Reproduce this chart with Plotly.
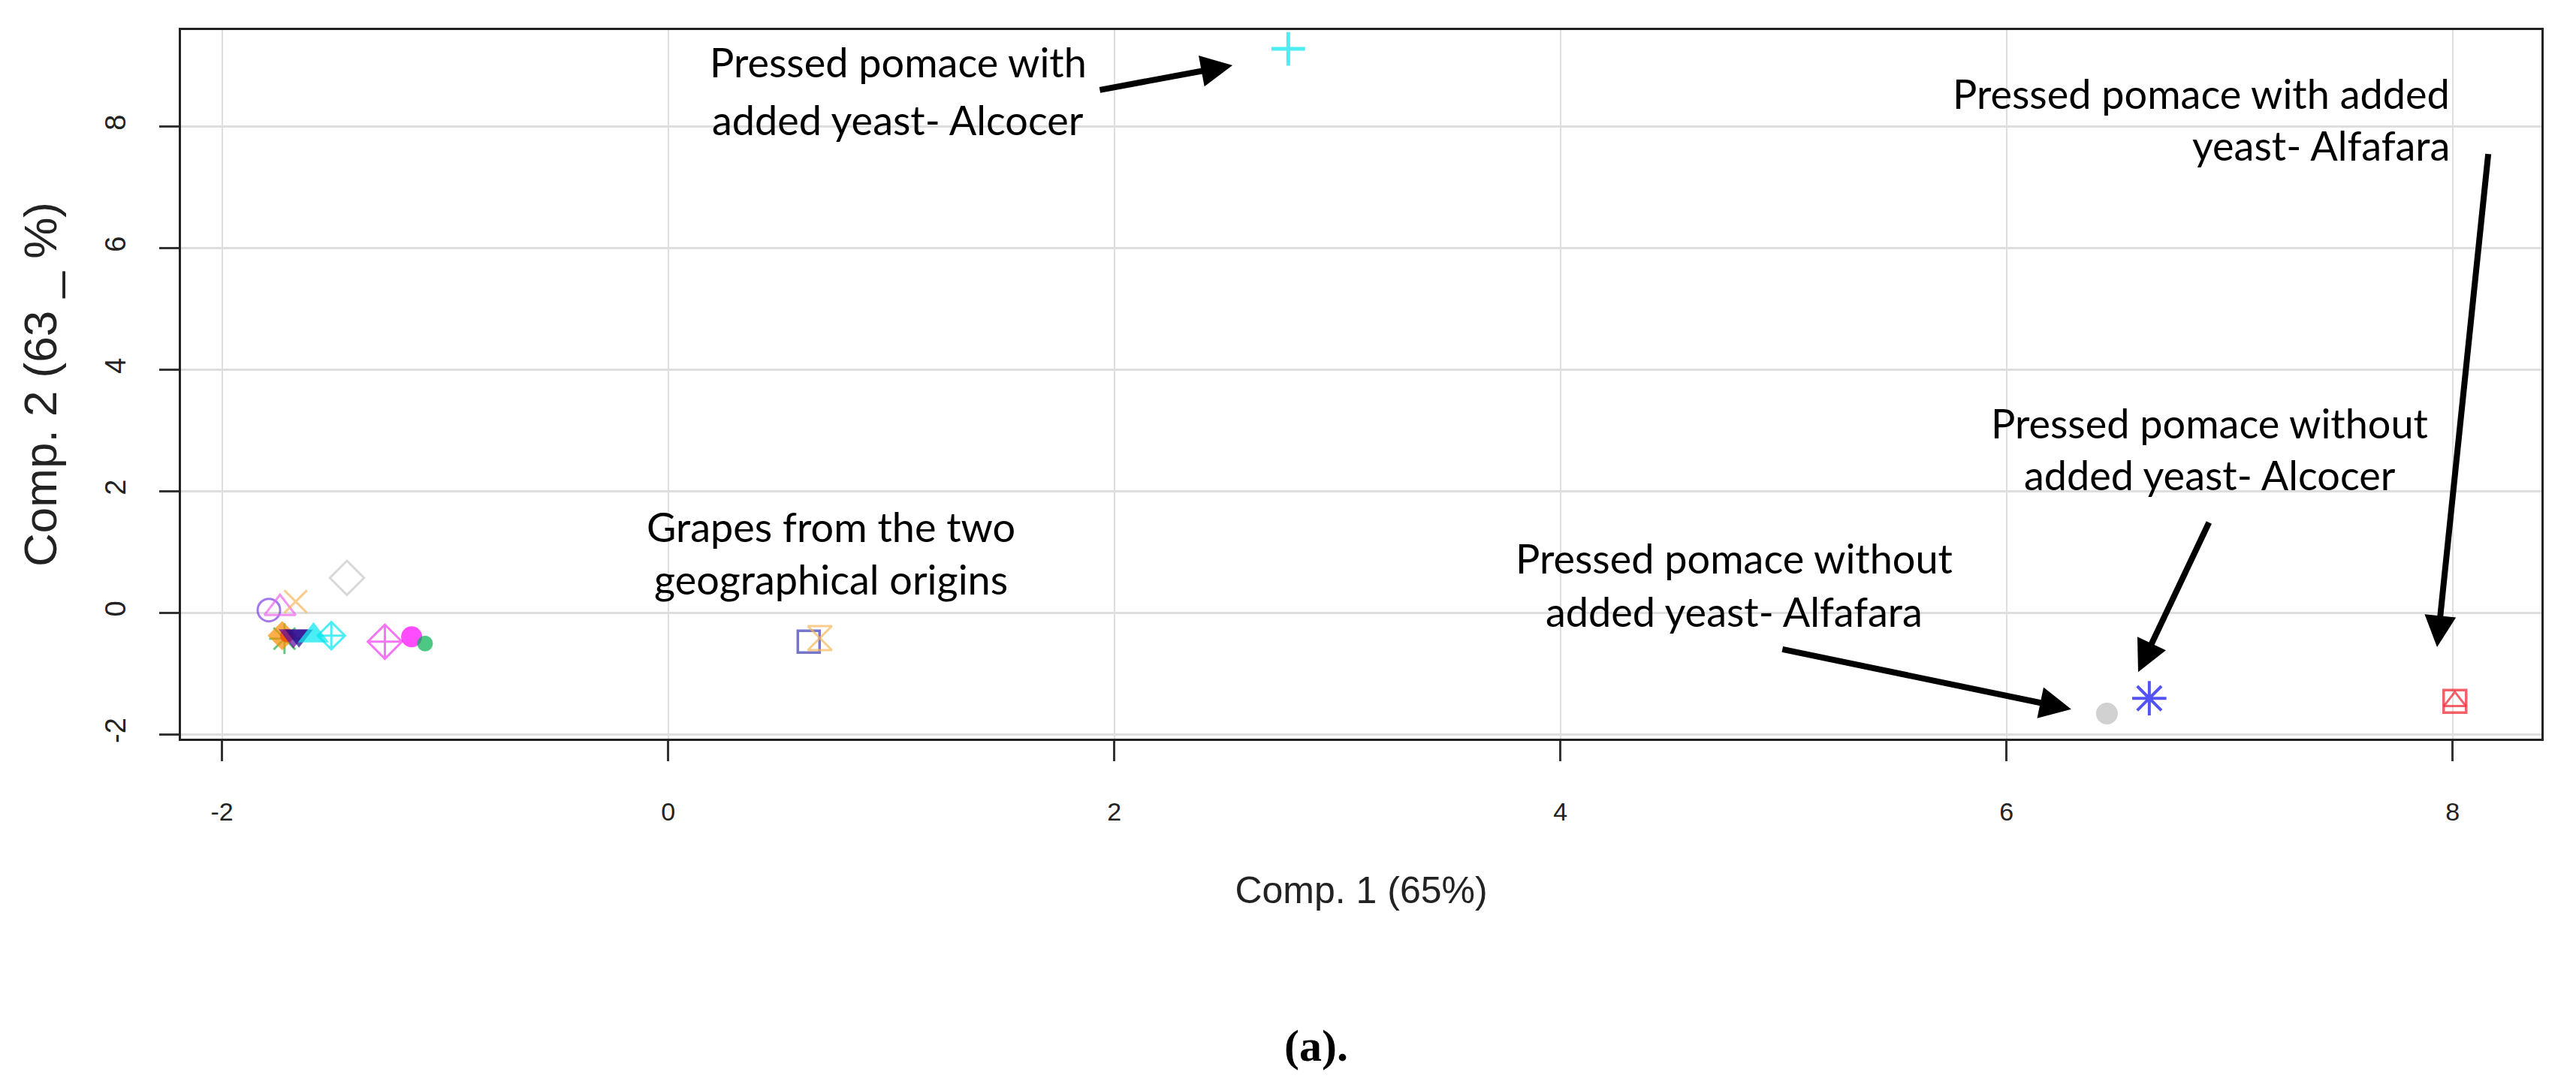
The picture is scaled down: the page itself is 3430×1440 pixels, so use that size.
import plotly.graph_objects as go

# PCA scores (Comp. 1, Comp. 2)
pt_x = [-1.44, -1.79, -1.74, -1.67, -1.72, -1.73, -1.71, -1.68, -1.655, -1.59, -1.51,
        -1.27, -1.15, -1.09, 0.63, 0.68, 2.78, 6.45, 6.64, 8.01, 8.01]
pt_y = [0.58, 0.05, 0.08, 0.19, -0.42, -0.37, -0.37, -0.37, -0.37, -0.37, -0.37,
        -0.47, -0.39, -0.50, -0.47, -0.41, 9.28, -1.65, -1.40, -1.45, -1.45]
pt_symbol = ["diamond-open", "circle-open", "triangle-up-open", "x-thin-open", "asterisk-open",
             "diamond", "circle", "triangle-down", "triangle-down", "triangle-up",
             "diamond-cross-open", "diamond-cross-open", "circle", "circle", "square-open",
             "hourglass-open", "cross-thin-open", "circle", "asterisk-open", "square-open",
             "triangle-up-open"]
pt_color = ["#C8C8C8", "#7B3FE4", "#EE66EE", "#F5B75A", "#22B14C",
            "#FF8C00", "#FF4500", "#5B0AA0", "#1A0A8C", "#00E5EE",
            "#00E5EE", "#F03CF0", "#FF00FF", "#00B050", "#3A3AB8",
            "#F5B75A", "#00E5EE", "#BEBEBE", "#0A0AF0", "#F0202A", "#F0202A"]
pt_size = [35, 30, 36, 30, 34, 30, 18, 34, 32, 36, 28, 35, 28, 21, 29, 32, 32, 29, 38, 30, 25]
pt_lw = [3, 3, 3, 3, 3, 0, 0, 0, 0, 0, 3, 3, 0, 0, 3.5, 3, 5, 0, 4, 3.5, 3]

x_ticks = [-2, 0, 2, 4, 6, 8]
x_ticktext = ["-2", "0", "2", "4", "6", "8"]
y_ticks = [-2, 0, 2, 4, 6, 8]
y_ticktext = ["-2", "0", "2", "4", "6", "8"]

# callout text, one entry per line
label_lines = ["Pressed pomace with", "added yeast- Alcocer",
               "Pressed pomace with added", "yeast- Alfafara",
               "Pressed pomace without", "added yeast- Alcocer",
               "Pressed pomace without", "added yeast- Alfafara",
               "Grapes from the two", "geographical origins"]
label_x = [1.03, 1.03, 7.995, 7.995, 6.91, 6.91, 4.78, 4.78, 0.73, 0.73]
label_y = [9.06, 8.11, 8.55, 7.69, 3.13, 2.27, 0.90, 0.03, 1.42, 0.56]
label_anchor = ["center", "center", "right", "right", "center", "center",
                "center", "center", "center", "center"]

# arrows: tail -> head
arrow_tail_x = [1.93, 8.16, 6.91, 4.99]
arrow_tail_y = [8.60, 7.57, 1.51, -0.59]
arrow_head_x = [2.53, 7.93, 6.59, 6.29]
arrow_head_y = [9.01, -0.56, -0.97, -1.58]

fig = go.Figure()
fig.add_trace(go.Scatter(
    x=pt_x, y=pt_y, mode="markers", showlegend=False,
    marker=dict(symbol=pt_symbol, color=pt_color, size=pt_size,
                line=dict(width=pt_lw, color=pt_color)),
))

for txt, lx, ly, anc in zip(label_lines, label_x, label_y, label_anchor):
    fig.add_annotation(x=lx, y=ly, text=txt, showarrow=False, xanchor=anc, yanchor="middle",
                       font=dict(family="Lato", size=54, color="black"))

for tx, ty, hx, hy in zip(arrow_tail_x, arrow_tail_y, arrow_head_x, arrow_head_y):
    fig.add_annotation(x=hx, y=hy, ax=tx, ay=ty, xref="x", yref="y", axref="x", ayref="y",
                       text="", showarrow=True, arrowhead=2, arrowsize=1.05,
                       arrowwidth=8, arrowcolor="black", standoff=0)

fig.add_annotation(x=0.481, y=-0.47, xref="paper", yref="paper", text="<b>(a).</b>",
                   showarrow=False, font=dict(family="Liberation Serif", size=60, color="black"))

fig.update_layout(
    width=3430, height=1440,
    margin=dict(l=241, r=46, t=40, b=456),
    plot_bgcolor="white", paper_bgcolor="white",
    font=dict(family="Liberation Sans", color="#222"),
)
fig.update_xaxes(
    range=[-2.184, 8.398], tickvals=x_ticks, ticktext=x_ticktext, ticks="outside",
    ticklen=27, tickwidth=3, tickcolor="#333", tickfont=dict(size=34), ticklabelstandoff=38,
    showgrid=True, gridcolor="#DEDEDE", gridwidth=2, zeroline=False,
    showline=True, linecolor="#222", linewidth=3, mirror=True,
    title=dict(text="Comp. 1 (65%)", font=dict(size=50), standoff=70),
)
fig.update_yaxes(
    range=[-2.065, 9.59], tickvals=y_ticks, ticktext=y_ticktext, ticks="outside",
    ticklen=26, tickwidth=3, tickcolor="#333", tickfont=dict(size=38), tickangle=-90,
    ticklabelstandoff=30,
    showgrid=True, gridcolor="#DEDEDE", gridwidth=3, zeroline=False,
    showline=True, linecolor="#222", linewidth=3, mirror=True,
    title=dict(text="Comp. 2 (63 _ %)", font=dict(size=62), standoff=38),
)

fig.write_html("out.html", config={"displayModeBar": False},
               post_script="document.body.style.margin='0';")
